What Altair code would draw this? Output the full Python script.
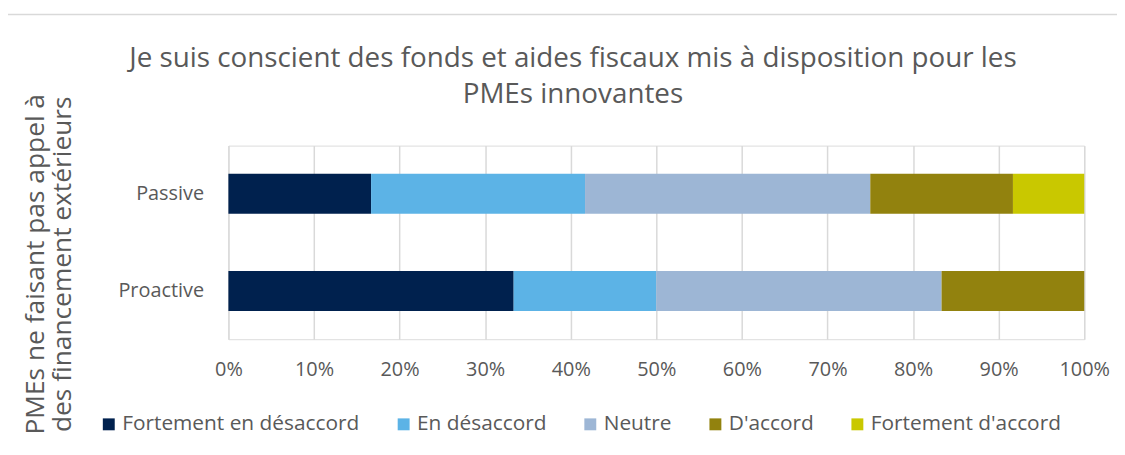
import altair as alt
import pandas as pd

groups = ["Passive", "Proactive"]
categories = ["Fortement en désaccord", "En désaccord", "Neutre", "D'accord", "Fortement d'accord"]
passive = [0.1667, 0.25, 0.3333, 0.1667, 0.0833]
proactive = [0.3333, 0.1667, 0.3333, 0.1667, 0.0]
colors = ["#00214E", "#5CB3E6", "#9DB6D5", "#92820E", "#C9C800"]
x_ticks = [0, 0.1, 0.2, 0.3, 0.4, 0.5, 0.6, 0.7, 0.8, 0.9, 1.0]

rows = []
for g, vals in zip(groups, [passive, proactive]):
    for i, (c, v) in enumerate(zip(categories, vals)):
        rows.append({"groupe": g, "reponse": c, "part": v, "rang": i})
df = pd.DataFrame(rows)

FONT = "Open Sans"
GREY = "#595959"

bars = alt.Chart(df).mark_bar().encode(
    y=alt.Y("groupe:N", sort=groups,
            scale=alt.Scale(paddingInner=0.59, paddingOuter=0.29),
            axis=alt.Axis(title=["PMEs ne faisant pas appel à", "des financement extérieurs"],
                          titleFontSize=26.5, titleFontWeight="normal", titleColor=GREY,
                          titleFont=FONT, titleAngle=-90, titleX=-194, titleY=119,
                          titleBaseline="middle", titleAlign="center", titleLineHeight=27,
                          labelFontSize=20, labelColor=GREY, labelFont=FONT,
                          labelPadding=25, ticks=False, domain=False)),
    x=alt.X("part:Q", stack="zero",
            scale=alt.Scale(domain=[0, 1], nice=False),
            axis=alt.Axis(values=x_ticks, format=".0%", title=None,
                          labelFontSize=20, labelColor=GREY, labelFont=FONT,
                          labelPadding=21, labelFlush=False, ticks=False, domain=False,
                          grid=True, gridColor="#d9d9d9", gridWidth=1.5)),
    color=alt.Color("reponse:N", sort=categories,
                    scale=alt.Scale(domain=categories, range=colors),
                    legend=alt.Legend(title=None, orient="none", direction="horizontal",
                                      legendX=-131, legendY=270, columns=5,
                                      symbolType="square", symbolSize=144,
                                      symbolStrokeWidth=0, labelFontSize=21,
                                      labelColor=GREY, labelFont=FONT, labelLimit=500,
                                      labelOffset=3, columnPadding=33)),
    order=alt.Order("rang:Q"),
)

frame_data = pd.DataFrame({"k": [0]})
top_border = alt.Chart(frame_data).mark_rule(color="#d9d9d9", strokeWidth=1.5).encode(
    x=alt.value(-226), x2=alt.value(900), y=alt.value(-132))
left_border = alt.Chart(frame_data).mark_rule(color="#d9d9d9", strokeWidth=1.5).encode(
    x=alt.value(-226), y=alt.value(-132), y2=alt.value(320))

chart = alt.layer(bars, top_border, left_border).properties(
    width=862, height=195,
    title=alt.TitleParams(
        text=["Je suis conscient des fonds et aides fiscaux mis à disposition pour les",
              "PMEs innovantes"],
        fontSize=28, font=FONT, fontWeight="normal", color=GREY,
        anchor="middle", dx=-84, offset=-118, lineHeight=36, baseline="alphabetic"),
    autosize=alt.AutoSizeParams(type="none"),
    padding={"left": 222, "top": 137, "right": 33, "bottom": 110},
).configure_view(stroke=None).configure(background="white")

chart.save("out.html", embed_options={"renderer": "svg", "actions": False})
